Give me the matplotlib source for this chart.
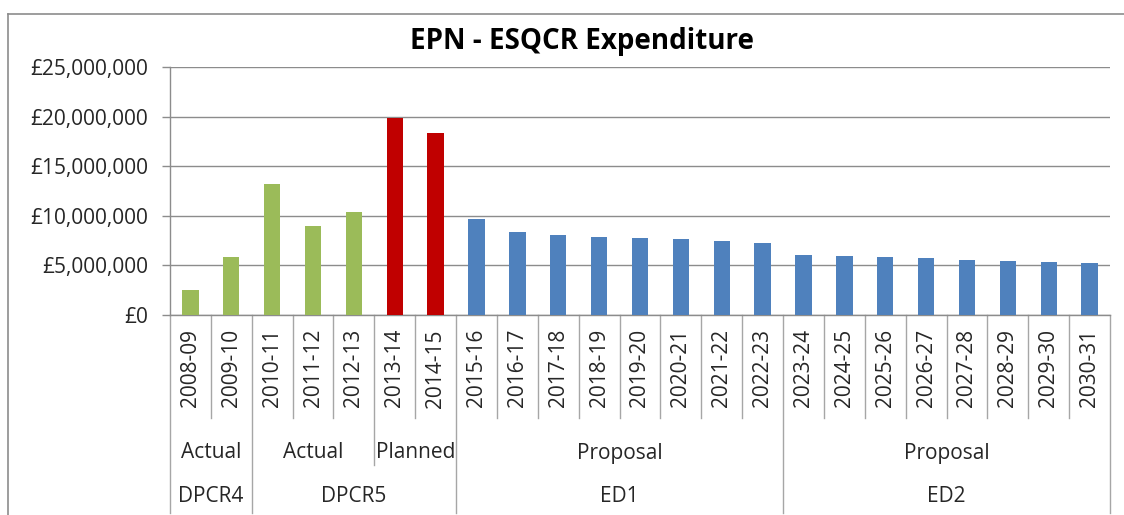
import matplotlib
matplotlib.use("Agg")
import matplotlib.pyplot as plt
from matplotlib.lines import Line2D
from matplotlib.ticker import FuncFormatter

plt.rcParams["font.family"] = ["Open Sans", "DejaVu Sans"]

years = [
    "2008-09", "2009-10", "2010-11", "2011-12", "2012-13", "2013-14", "2014-15",
    "2015-16", "2016-17", "2017-18", "2018-19", "2019-20", "2020-21", "2021-22",
    "2022-23", "2023-24", "2024-25", "2025-26", "2026-27", "2027-28", "2028-29",
    "2029-30", "2030-31",
]
spend = [
    2.5e6, 5.85e6, 13.2e6, 9.0e6, 10.4e6, 19.85e6, 18.3e6,
    9.63e6, 8.33e6, 8.1e6, 7.86e6, 7.72e6, 7.62e6, 7.48e6, 7.24e6,
    6.05e6, 5.92e6, 5.82e6, 5.71e6, 5.58e6, 5.48e6, 5.37e6, 5.27e6,
]
# (label, first index, last index + 1)
status_groups = [("Actual", 0, 2), ("Actual", 2, 5), ("Planned", 5, 7),
                 ("Proposal", 7, 15), ("Proposal", 15, 23)]
period_groups = [("DPCR4", 0, 2), ("DPCR5", 2, 7), ("ED1", 7, 15), ("ED2", 15, 23)]
status_colors = {"Actual": "#9BBB59", "Planned": "#C00000", "Proposal": "#4F81BD"}

W, H = 1124, 515
fig = plt.figure(figsize=(W / 100, H / 100), dpi=100)
ax = fig.add_axes([170 / W, 1 - 315 / H, 940 / W, 248 / H])

colors = []
for name, a, b in status_groups:
    colors += [status_colors[name]] * (b - a)

x = list(range(len(years)))
ax.bar(x, spend, width=0.4, color=colors, zorder=3)
ax.set_xlim(-0.5, len(years) - 0.5)
ax.set_ylim(0, 25e6)
ax.set_yticks([0, 5e6, 10e6, 15e6, 20e6, 25e6])
ax.yaxis.set_major_formatter(FuncFormatter(lambda v, _: f"£{v:,.0f}"))
ax.tick_params(axis="y", labelsize=15, colors="#8c8c8c", labelcolor="#262626",
               length=6, width=1, pad=9.5)
ax.set_xticks([])
ax.grid(axis="y", color="#8c8c8c", linewidth=1, zorder=0)
for s in ["top", "right"]:
    ax.spines[s].set_visible(False)
for s in ["left", "bottom"]:
    ax.spines[s].set_color("#8c8c8c")
    ax.spines[s].set_linewidth(1)

# multi-level category axis
tr = ax.get_xaxis_transform()
px = 1 / 248  # one pixel in axes fraction
line_kw = dict(color="#a6a6a6", linewidth=1, transform=tr, clip_on=False)

for i, yr in enumerate(years):
    ax.text(i, -14 * px, yr, rotation=90, ha="center", va="top",
            fontsize=15, color="#262626", transform=tr)

period_edges = {a for _, a, _ in period_groups} | {len(years)}
status_edges = {a for _, a, _ in status_groups} | {len(years)}
for e in range(len(years) + 1):
    if e in period_edges:
        bottom = -198
    elif e in status_edges:
        bottom = -150
    else:
        bottom = -103
    ax.add_line(Line2D([e - 0.5, e - 0.5], [0, bottom * px], **line_kw))

for name, a, b in status_groups:
    ax.text((a + b - 1) / 2, -138 * px, name, ha="center", va="center",
            fontsize=15, color="#262626", transform=tr)
for name, a, b in period_groups:
    ax.text((a + b - 1) / 2, -181 * px, name, ha="center", va="center",
            fontsize=15, color="#262626", transform=tr)

fig.text(582 / W, 1 - 42 / H, "EPN - ESQCR Expenditure", ha="center", va="center",
         fontsize=20, fontweight="bold", color="black")

# chart area border
fig.add_artist(Line2D([8 / W, 1], [1 - 14 / H] * 2, color="#8c8c8c", linewidth=1.2,
                      transform=fig.transFigure))
fig.add_artist(Line2D([8 / W] * 2, [0, 1 - 14 / H], color="#8c8c8c", linewidth=1.2,
                      transform=fig.transFigure))

fig.savefig("out.png", dpi=100)
